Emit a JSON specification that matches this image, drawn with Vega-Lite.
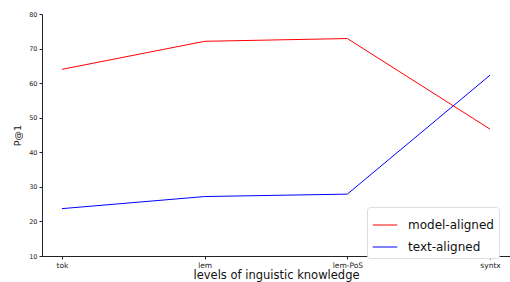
{
  "$schema": "https://vega.github.io/schema/vega-lite/v6.json",
  "width": 468,
  "height": 242,
  "autosize": {"type": "none"},
  "padding": {"left": 42, "top": 14, "right": 0, "bottom": 26},
  "background": "white",
  "config": {
    "font": "DejaVu Sans",
    "view": {"stroke": null},
    "axis": {"grid": false, "domainColor": "#222", "tickColor": "#222", "labelColor": "#222", "titleColor": "#111", "titleFontWeight": "normal", "labelOverlap": false}
  },
  "data": {
    "values": [
      {"level": "tok", "series": "model-aligned", "p": 64.0},
      {"level": "lem", "series": "model-aligned", "p": 72.1},
      {"level": "lem-PoS", "series": "model-aligned", "p": 72.9},
      {"level": "syntx", "series": "model-aligned", "p": 46.7},
      {"level": "tok", "series": "text-aligned", "p": 23.7},
      {"level": "lem", "series": "text-aligned", "p": 27.2},
      {"level": "lem-PoS", "series": "text-aligned", "p": 27.9},
      {"level": "syntx", "series": "text-aligned", "p": 62.3}
    ]
  },
  "mark": {"type": "line", "strokeWidth": 1},
  "encoding": {
    "x": {
      "field": "level", "type": "ordinal", "sort": ["tok", "lem", "lem-PoS", "syntx"],
      "scale": {"type": "point", "padding": 0.14},
      "axis": {"title": "levels of inguistic knowledge", "titleFontSize": 11.5, "titlePadding": 1, "labelFontSize": 7.5, "labelAngle": 0, "tickSize": 3, "labelPadding": 2, "domainWidth": 1}
    },
    "y": {
      "field": "p", "type": "quantitative",
      "scale": {"domain": [10, 80], "nice": false, "zero": false},
      "axis": {"title": "P@1", "titleFontSize": 9.5, "titlePadding": 6, "labelFontSize": 6.5, "values": [10,20,30,40,50,60,70,80], "tickSize": 3, "labelPadding": 2, "domainWidth": 1}
    },
    "color": {
      "field": "series", "type": "nominal",
      "scale": {"domain": ["model-aligned", "text-aligned"], "range": ["#ff0000", "#0000ff"]},
      "legend": {
        "title": null, "orient": "none", "legendX": 325, "legendY": 193,
        "symbolType": "stroke", "symbolStrokeWidth": 1, "symbolSize": 600,
        "labelFontSize": 12, "labelColor": "#111", "rowPadding": 3, "padding": 5,
        "strokeColor": "#ddd", "fillColor": "white", "cornerRadius": 3, "labelOffset": 10
      }
    }
  }
}
